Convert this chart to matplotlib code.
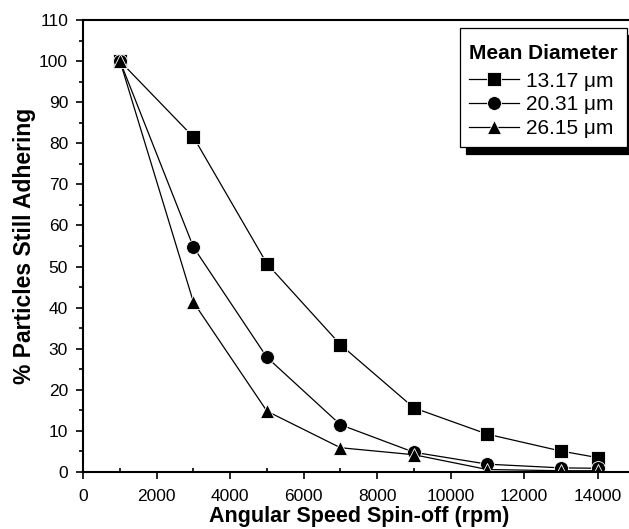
"""Particle spin-off adhesion curves for three mean diameters."""

import matplotlib
matplotlib.use("Agg")
import matplotlib.pyplot as plt
from matplotlib.offsetbox import DrawingArea, VPacker
from matplotlib.ticker import MultipleLocator

# Data.
speeds = [1000, 3000, 5000, 7000, 9000, 11000, 13000, 14000]
small = [100, 81.5, 50.7, 31.0, 15.6, 9.2, 5.1, 3.5]
medium = [100, 54.7, 27.9, 11.5, 4.8, 1.9, 1.0, 0.9]
large = [100, 41.3, 14.8, 5.9, 4.2, 0.6, 0.3, 0.3]
labels = ["13.17 \u03bcm", "20.31 \u03bcm", "26.15 \u03bcm"]
markers = ["s", "o", "^"]
marker_sizes = [9.5, 10, 10.5]

plt.rcParams["font.family"] = ["Liberation Sans", "DejaVu Sans"]

fig = plt.figure(figsize=(6.29, 5.29), dpi=100)
# The right spine sits just past the edge of the image, as in the original.
ax = fig.add_axes([0.1324, 0.1078, 0.876, 0.8543])

for values, label, marker, size in zip([small, medium, large], labels, markers, marker_sizes):
    ax.plot(speeds, values, color="black", linewidth=0.9, marker=marker,
            markersize=size, markeredgecolor="white", markeredgewidth=0.6, label=label)

ax.set_xlim(0, 15000)
ax.set_ylim(0, 110)
ax.xaxis.set_major_locator(MultipleLocator(2000))
ax.xaxis.set_minor_locator(MultipleLocator(1000))
ax.yaxis.set_major_locator(MultipleLocator(10))
ax.yaxis.set_minor_locator(MultipleLocator(5))
ax.tick_params(which="major", direction="out", length=5, width=1.2, labelsize=12.5)
ax.tick_params(axis="x", which="minor", direction="in", length=3, width=1.2)
ax.tick_params(axis="y", which="minor", direction="out", length=3, width=1.2)
ax.tick_params(axis="x", which="major", pad=7.5)
ax.tick_params(axis="y", which="major", pad=6)
for spine in ax.spines.values():
    spine.set_linewidth(1.5)

ax.set_xlabel("Angular Speed Spin-off (rpm)", fontsize=15.5, fontweight="bold", labelpad=1)
ax.set_ylabel("% Particles Still Adhering", fontsize=16.5, fontweight="bold", labelpad=2)

legend = ax.legend(title="Mean Diameter", loc="upper right",
                   bbox_to_anchor=(627 / 629, 1 - 28 / 529), bbox_transform=fig.transFigure,
                   fontsize=15, title_fontproperties={"weight": "bold", "size": 15},
                   frameon=True, fancybox=False, edgecolor="black", handlelength=2.4,
                   handletextpad=0.35, borderpad=0.45, labelspacing=0.22, borderaxespad=0,
                   shadow={"ox": 5, "oy": -5, "color": "black", "alpha": 1})
legend.get_frame().set_linewidth(0.9)
legend._legend_box.align = "left"
# Extra room above the title, a bit less below it.
titleBox = legend._legend_box.get_children()[0]
legend._legend_box._children[0] = VPacker(children=[DrawingArea(1, 5), titleBox],
                                          pad=0, sep=0, align="left")
legend._legend_box.sep = 6

fig.savefig("out.png", dpi=100)
